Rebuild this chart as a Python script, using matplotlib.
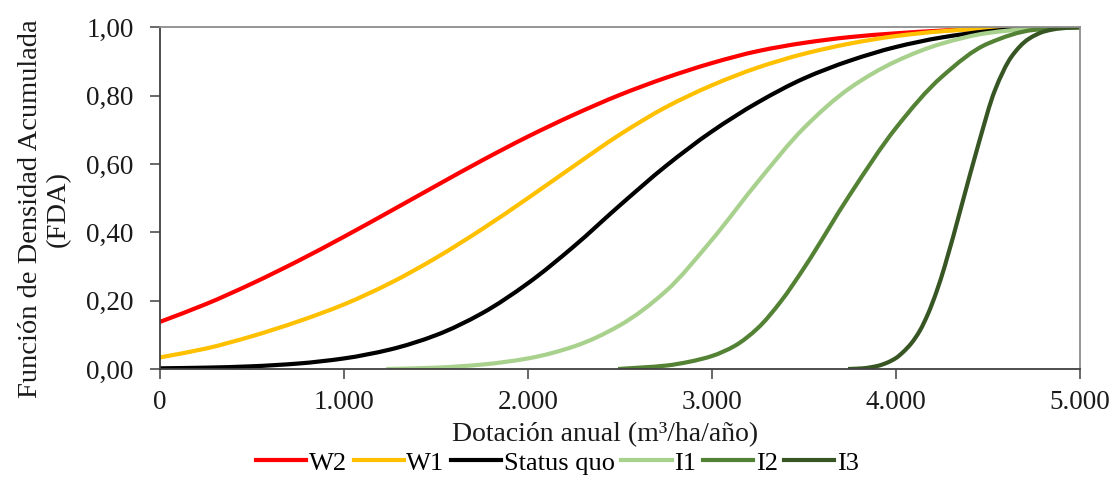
import matplotlib
matplotlib.use("Agg")
import matplotlib.pyplot as plt
from matplotlib.ticker import FixedLocator, FuncFormatter
from matplotlib.path import Path
from matplotlib.patches import PathPatch
from matplotlib.lines import Line2D
import numpy as np

plt.rcParams['font.family'] = ['Liberation Serif', 'DejaVu Serif']

# ---- data ----
w2_x = [0, 250, 500, 750, 1000, 1250, 1500, 1750, 2000, 2250, 2500, 2750, 3000, 3250, 3500, 3750,
        4000, 4250, 4500, 4750, 5000]
w2_y = [0.138, 0.190, 0.250, 0.316, 0.387, 0.461, 0.536, 0.610, 0.680, 0.744, 0.802, 0.852, 0.895,
        0.930, 0.954, 0.971, 0.982, 0.990, 0.996, 0.999, 1.0]

w1_x = [0, 250, 500, 750, 1000, 1250, 1500, 1750, 2000, 2250, 2500, 2750, 3000, 3250, 3500, 3750,
        4000, 4250, 4500, 4750, 5000]
w1_y = [0.034, 0.060, 0.096, 0.139, 0.189, 0.251, 0.325, 0.409, 0.500, 0.594, 0.686, 0.766, 0.830,
        0.882, 0.922, 0.952, 0.974, 0.988, 0.996, 0.999, 1.0]

sq_x = [0, 250, 500, 750, 1000, 1250, 1500, 1750, 2000, 2250, 2500, 2750, 3000, 3250, 3500, 3750,
        4000, 4250, 4500, 4750, 5000]
sq_y = [0.002, 0.004, 0.008, 0.016, 0.031, 0.057, 0.099, 0.163, 0.251, 0.359, 0.479, 0.594, 0.695,
        0.780, 0.850, 0.902, 0.942, 0.970, 0.988, 0.997, 1.0]

i1_x = [1230, 1500, 1750, 2000, 2250, 2500, 2750, 3000, 3250, 3500, 3750, 4000, 4250, 4500, 4750,
        5000]
i1_y = [0.0, 0.004, 0.013, 0.031, 0.066, 0.128, 0.228, 0.378, 0.548, 0.705, 0.822, 0.900, 0.952,
        0.983, 0.996, 1.0]

i2_x = [2490, 2750, 2875, 3000, 3125, 3250, 3375, 3500, 3750, 4000, 4250, 4500, 4750, 5000]
i2_y = [0.0, 0.010, 0.021, 0.038, 0.068, 0.120, 0.198, 0.295, 0.510, 0.705, 0.855, 0.952, 0.992,
        1.0]

i3_x = [3740, 3820, 3900, 3950, 4000, 4040, 4085, 4130, 4175, 4220, 4265, 4357, 4450, 4538, 4630,
        4720, 4810, 4900, 5000]
i3_y = [0.0, 0.002, 0.009, 0.018, 0.032, 0.050, 0.076, 0.112, 0.162, 0.225, 0.300, 0.478, 0.660,
        0.815, 0.915, 0.965, 0.988, 0.997, 1.0]

series_names = ["W2", "W1", "Status quo", "I1", "I2", "I3"]
series_x = [w2_x, w1_x, sq_x, i1_x, i2_x, i3_x]
series_y = [w2_y, w1_y, sq_y, i1_y, i2_y, i3_y]
colors = ["#FF0000", "#FFC000", "#000000", "#A9D18E", "#548235", "#375623"]

x_ticks = [0, 1000, 2000, 3000, 4000, 5000]
y_ticks = [0.0, 0.2, 0.4, 0.6, 0.8, 1.0]


def smooth_path(xs, ys):
    """Smoothed line through the data points (monotone cubic Hermite as Bezier segments)."""
    x = np.asarray(xs, float)
    y = np.asarray(ys, float)
    h = np.diff(x)
    d = np.diff(y) / h
    n = len(x)
    m = np.zeros(n)
    m[0], m[-1] = d[0], d[-1]
    for k in range(1, n - 1):
        if d[k - 1] * d[k] <= 0:
            m[k] = 0.0
        else:
            w1 = 2 * h[k] + h[k - 1]
            w2 = h[k] + 2 * h[k - 1]
            m[k] = (w1 + w2) / (w1 / d[k - 1] + w2 / d[k])
    verts = [(x[0], y[0])]
    codes = [Path.MOVETO]
    for k in range(n - 1):
        verts += [(x[k] + h[k] / 3, y[k] + m[k] * h[k] / 3),
                  (x[k + 1] - h[k] / 3, y[k + 1] - m[k + 1] * h[k] / 3),
                  (x[k + 1], y[k + 1])]
        codes += [Path.CURVE4] * 3
    return Path(verts, codes)


fig = plt.figure(figsize=(11.15, 4.94), dpi=100)
ax = fig.add_axes([0.1435, 0.253, 0.825, 0.692])

handles = []
for xs, ys, name, c in zip(series_x, series_y, series_names, colors):
    patch = PathPatch(smooth_path(xs, ys), facecolor='none', edgecolor=c, lw=3,
                      capstyle='butt', joinstyle='round')
    ax.add_patch(patch)
    handles.append(Line2D([], [], color=c, lw=3, label=name))

ax.set_xlim(0, 5000)
ax.set_ylim(0, 1.0)
ax.xaxis.set_major_locator(FixedLocator(x_ticks))
ax.yaxis.set_major_locator(FixedLocator(y_ticks))
ax.xaxis.set_major_formatter(FuncFormatter(lambda v, p: f"{int(v):,}".replace(",", ".")))
ax.yaxis.set_major_formatter(FuncFormatter(lambda v, p: f"{v:.2f}".replace(".", ",")))

for s in ["left", "bottom"]:
    ax.spines[s].set_color("#404040")
    ax.spines[s].set_linewidth(1.3)
for s in ["top", "right"]:
    ax.spines[s].set_color("#8C8C8C")
    ax.spines[s].set_linewidth(1.3)

ax.tick_params(axis='both', direction='out', length=7, width=1.1, color="#404040",
               labelsize=19.5, labelcolor="#1a1a1a")
ax.tick_params(axis='y', pad=12)
ax.tick_params(axis='x', pad=8)

ax.set_xlabel("Dotación anual (m³/ha/año)", fontsize=20, color="#1a1a1a")
ax.xaxis.set_label_coords(0.484, -0.155)
ax.set_ylabel("Función de Densidad Acumulada\n(FDA)", fontsize=20.5, color="#1a1a1a",
              linespacing=1.15)
ax.yaxis.set_label_coords(-0.097, 0.468)

fig.legend(handles=handles, loc='lower center', bbox_to_anchor=(0.5, 0.002), ncol=6,
           frameon=False, fontsize=19, handlelength=1.9, handletextpad=0.1,
           columnspacing=0.25, borderaxespad=0.3)

fig.savefig("out.png", dpi=100)
